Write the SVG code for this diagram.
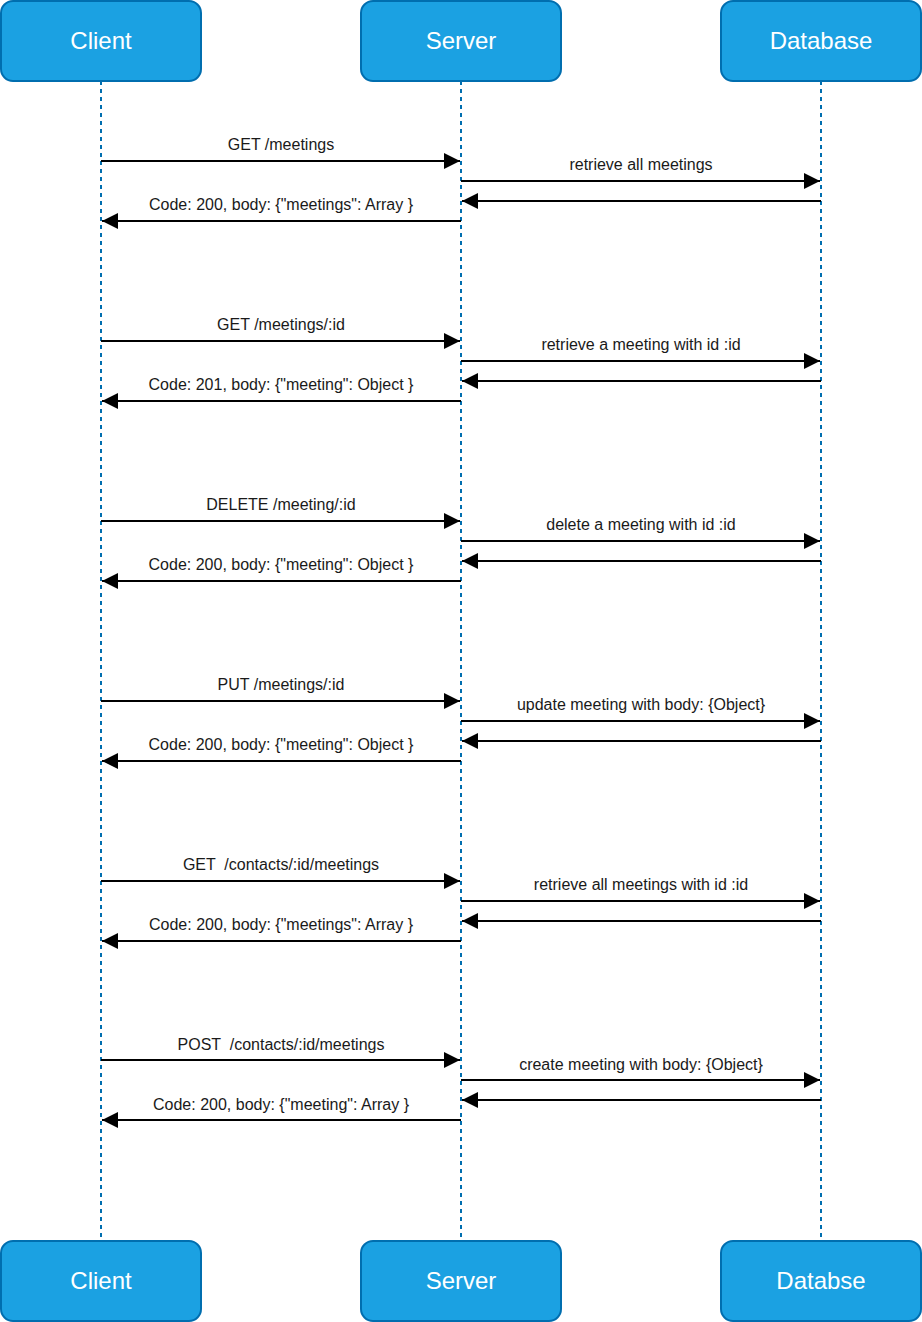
<svg xmlns="http://www.w3.org/2000/svg" width="922" height="1322" viewBox="0 0 922 1322">
<style>
.box{fill:#1BA1E2;stroke:#006EAF;stroke-width:2}
.bt{fill:#ffffff;font-family:"Liberation Sans",Arial,sans-serif;font-size:24px;text-anchor:middle}
.life{stroke:#006EAF;stroke-width:2;stroke-dasharray:4 4;fill:none}
.msg{stroke:#000;stroke-width:2;fill:none}
.lbl{fill:#1a1a1a;font-family:"Liberation Sans",Arial,sans-serif;font-size:16px;text-anchor:middle;white-space:pre}
</style>
<defs>
<marker id="ah" markerUnits="userSpaceOnUse" markerWidth="18" markerHeight="16" refX="16" refY="8" orient="auto">
<path d="M0,0 L16,8 L0,16 Z" fill="#000"/>
</marker>
</defs>
<rect width="922" height="1322" fill="#ffffff"/>
<g id="lifelines">
<line class="life" x1="101" y1="81" x2="101" y2="1241"/>
<line class="life" x1="461" y1="81" x2="461" y2="1241"/>
<line class="life" x1="821" y1="81" x2="821" y2="1241"/>
</g>
<g id="client-top"><rect class="box" x="1" y="1" width="200" height="80" rx="12"/><text class="bt" x="101" y="49">Client</text></g>
<g id="server-top"><rect class="box" x="361" y="1" width="200" height="80" rx="12"/><text class="bt" x="461" y="49">Server</text></g>
<g id="database-top"><rect class="box" x="721" y="1" width="200" height="80" rx="12"/><text class="bt" x="821" y="49">Database</text></g>
<g id="client-bottom"><rect class="box" x="1" y="1241" width="200" height="80" rx="12"/><text class="bt" x="101" y="1289">Client</text></g>
<g id="server-bottom"><rect class="box" x="361" y="1241" width="200" height="80" rx="12"/><text class="bt" x="461" y="1289">Server</text></g>
<g id="database-bottom"><rect class="box" x="721" y="1241" width="200" height="80" rx="12"/><text class="bt" x="821" y="1289">Databse</text></g>
<g id="connectors">
<line class="msg" x1="101" y1="161" x2="460" y2="161" marker-end="url(#ah)"/>
<line class="msg" x1="461" y1="181" x2="820" y2="181" marker-end="url(#ah)"/>
<line class="msg" x1="821" y1="201" x2="462" y2="201" marker-end="url(#ah)"/>
<line class="msg" x1="461" y1="221" x2="102" y2="221" marker-end="url(#ah)"/>

<line class="msg" x1="101" y1="341" x2="460" y2="341" marker-end="url(#ah)"/>
<line class="msg" x1="461" y1="361" x2="820" y2="361" marker-end="url(#ah)"/>
<line class="msg" x1="821" y1="381" x2="462" y2="381" marker-end="url(#ah)"/>
<line class="msg" x1="461" y1="401" x2="102" y2="401" marker-end="url(#ah)"/>

<line class="msg" x1="101" y1="521" x2="460" y2="521" marker-end="url(#ah)"/>
<line class="msg" x1="461" y1="541" x2="820" y2="541" marker-end="url(#ah)"/>
<line class="msg" x1="821" y1="561" x2="462" y2="561" marker-end="url(#ah)"/>
<line class="msg" x1="461" y1="581" x2="102" y2="581" marker-end="url(#ah)"/>

<line class="msg" x1="101" y1="701" x2="460" y2="701" marker-end="url(#ah)"/>
<line class="msg" x1="461" y1="721" x2="820" y2="721" marker-end="url(#ah)"/>
<line class="msg" x1="821" y1="741" x2="462" y2="741" marker-end="url(#ah)"/>
<line class="msg" x1="461" y1="761" x2="102" y2="761" marker-end="url(#ah)"/>

<line class="msg" x1="101" y1="881" x2="460" y2="881" marker-end="url(#ah)"/>
<line class="msg" x1="461" y1="901" x2="820" y2="901" marker-end="url(#ah)"/>
<line class="msg" x1="821" y1="921" x2="462" y2="921" marker-end="url(#ah)"/>
<line class="msg" x1="461" y1="941" x2="102" y2="941" marker-end="url(#ah)"/>

<line class="msg" x1="101" y1="1060" x2="460" y2="1060" marker-end="url(#ah)"/>
<line class="msg" x1="461" y1="1080" x2="820" y2="1080" marker-end="url(#ah)"/>
<line class="msg" x1="821" y1="1100" x2="462" y2="1100" marker-end="url(#ah)"/>
<line class="msg" x1="461" y1="1120" x2="102" y2="1120" marker-end="url(#ah)"/>
</g>
<g id="labels">
<text class="lbl" x="281" y="150">GET /meetings</text>
<text class="lbl" x="641" y="170">retrieve all meetings</text>
<text class="lbl" x="281" y="210">Code: 200, body: {"meetings": Array }</text>

<text class="lbl" x="281" y="330">GET /meetings/:id</text>
<text class="lbl" x="641" y="350">retrieve a meeting with id :id</text>
<text class="lbl" x="281" y="390">Code: 201, body: {"meeting": Object }</text>

<text class="lbl" x="281" y="510">DELETE /meeting/:id</text>
<text class="lbl" x="641" y="530">delete a meeting with id :id</text>
<text class="lbl" x="281" y="570">Code: 200, body: {"meeting": Object }</text>

<text class="lbl" x="281" y="690">PUT /meetings/:id</text>
<text class="lbl" x="641" y="710">update meeting with body: {Object}</text>
<text class="lbl" x="281" y="750">Code: 200, body: {"meeting": Object }</text>

<text class="lbl" x="281" y="870">GET  /contacts/:id/meetings</text>
<text class="lbl" x="641" y="890">retrieve all meetings with id :id</text>
<text class="lbl" x="281" y="930">Code: 200, body: {"meetings": Array }</text>

<text class="lbl" x="281" y="1050">POST  /contacts/:id/meetings</text>
<text class="lbl" x="641" y="1070">create meeting with body: {Object}</text>
<text class="lbl" x="281" y="1110">Code: 200, body: {"meeting": Array }</text>
</g>
</svg>
